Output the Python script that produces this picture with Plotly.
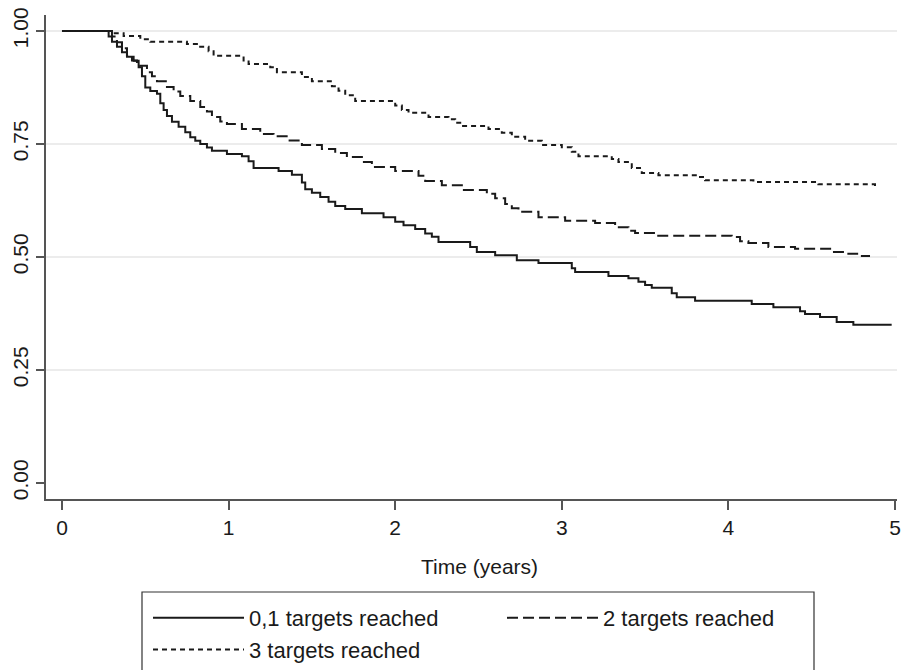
import plotly.graph_objects as go

# ---- data (Kaplan-Meier step estimates) ----
group_names = ["0,1 targets reached", "2 targets reached", "3 targets reached"]
x_title = "Time (years)"

t_01 = [0.00, 0.28, 0.30, 0.33, 0.36, 0.39, 0.43, 0.46, 0.48, 0.50, 0.53, 0.57, 0.59, 0.61,
        0.63, 0.66, 0.70, 0.74, 0.77, 0.80, 0.83, 0.87, 0.90, 0.99, 1.08, 1.12, 1.15, 1.30,
        1.38, 1.44, 1.46, 1.50, 1.55, 1.60, 1.64, 1.70, 1.80, 1.93, 2.00, 2.05, 2.12, 2.18,
        2.22, 2.26, 2.45, 2.49, 2.60, 2.73, 2.86, 3.06, 3.08, 3.28, 3.40, 3.46, 3.50, 3.54,
        3.66, 3.69, 3.80, 4.14, 4.27, 4.43, 4.46, 4.55, 4.65, 4.75, 4.98]
s_01 = [1.000, 0.988, 0.976, 0.965, 0.953, 0.943, 0.934, 0.920, 0.900, 0.875, 0.867, 0.861,
        0.840, 0.825, 0.812, 0.799, 0.788, 0.776, 0.765, 0.757, 0.750, 0.742, 0.735, 0.728,
        0.723, 0.712, 0.697, 0.690, 0.682, 0.665, 0.650, 0.642, 0.633, 0.622, 0.613, 0.606,
        0.597, 0.588, 0.578, 0.570, 0.562, 0.552, 0.545, 0.533, 0.522, 0.511, 0.504, 0.493,
        0.487, 0.475, 0.467, 0.458, 0.453, 0.445, 0.438, 0.432, 0.420, 0.411, 0.403, 0.396,
        0.389, 0.380, 0.374, 0.367, 0.356, 0.350, 0.350]

t_2 = [0.00, 0.30, 0.33, 0.36, 0.39, 0.42, 0.45, 0.51, 0.54, 0.57, 0.63, 0.67, 0.71, 0.77,
       0.83, 0.87, 0.90, 0.95, 0.99, 1.08, 1.19, 1.27, 1.36, 1.44, 1.56, 1.64, 1.71, 1.80,
       1.86, 2.00, 2.14, 2.18, 2.28, 2.40, 2.55, 2.60, 2.66, 2.70, 2.74, 2.86, 3.02, 3.20,
       3.32, 3.40, 3.44, 3.56, 4.02, 4.07, 4.12, 4.24, 4.40, 4.62, 4.72, 4.78, 4.85]
s_2 = [1.000, 0.988, 0.975, 0.962, 0.945, 0.935, 0.923, 0.909, 0.900, 0.889, 0.876, 0.866,
       0.856, 0.845, 0.832, 0.822, 0.810, 0.800, 0.794, 0.783, 0.772, 0.767, 0.758, 0.748,
       0.739, 0.730, 0.721, 0.710, 0.699, 0.690, 0.680, 0.668, 0.659, 0.648, 0.640, 0.630,
       0.617, 0.608, 0.600, 0.588, 0.580, 0.575, 0.566, 0.558, 0.553, 0.547, 0.544, 0.535,
       0.531, 0.522, 0.518, 0.511, 0.507, 0.502, 0.502]

t_3 = [0.00, 0.31, 0.37, 0.47, 0.53, 0.75, 0.82, 0.88, 0.91, 1.09, 1.12, 1.25, 1.29, 1.44,
       1.50, 1.62, 1.66, 1.70, 1.76, 2.00, 2.04, 2.08, 2.20, 2.32, 2.36, 2.40, 2.56, 2.64,
       2.70, 2.78, 2.88, 3.00, 3.06, 3.10, 3.30, 3.34, 3.42, 3.48, 3.58, 3.82, 3.86, 4.15,
       4.54, 4.88, 4.90]
s_3 = [1.000, 0.995, 0.989, 0.982, 0.976, 0.971, 0.965, 0.955, 0.945, 0.935, 0.927, 0.920,
       0.909, 0.898, 0.889, 0.878, 0.868, 0.858, 0.845, 0.835, 0.825, 0.819, 0.810, 0.805,
       0.797, 0.790, 0.783, 0.775, 0.766, 0.757, 0.748, 0.743, 0.733, 0.723, 0.717, 0.710,
       0.697, 0.686, 0.681, 0.677, 0.670, 0.666, 0.661, 0.657, 0.657]

x_ticks = [0, 1, 2, 3, 4, 5]
y_ticks = [0.0, 0.25, 0.5, 0.75, 1.0]
y_ticktext = ["0.00", "0.25", "0.50", "0.75", "1.00"]
grid_values = [0.25, 0.5, 0.75, 1.0]

# ---- figure ----
W, H = 901, 670
ML, MR, MT, MB = 46, 4, 15, 171
PW, PH = W - ML - MR, H - MT - MB

def px_x(p):
    return (p - ML) / PW

def px_y(p):
    return (H - MB - p) / PH

FONT = "Liberation Sans, Arial, Helvetica, sans-serif"
INK = "#1a1a1a"

fig = go.Figure()
series = [(t_01, s_01, "solid"), (t_2, s_2, "11px,5px"), (t_3, s_3, "5px,4px")]
for name, (t, s, dash) in zip(group_names, series):
    fig.add_trace(go.Scatter(
        x=t, y=s, name=name, mode="lines",
        line=dict(color=INK, width=2, dash=dash, shape="hv"),
    ))

shapes = []
for g in grid_values:
    shapes.append(dict(type="line", xref="paper", x0=0, x1=1, yref="y", y0=g, y1=g,
                       line=dict(color="#e6e6e6", width=1.5), layer="below"))
# legend frame
shapes.append(dict(type="rect", xref="paper", yref="paper",
                   x0=px_x(142), x1=px_x(814), y0=px_y(592), y1=px_y(674),
                   line=dict(color="#333333", width=1.2), fillcolor="rgba(0,0,0,0)"))

fig.update_layout(
    width=W, height=H,
    margin=dict(l=ML, r=MR, t=MT, b=MB, pad=0, autoexpand=False),
    paper_bgcolor="white", plot_bgcolor="white",
    font=dict(family=FONT, size=21, color=INK),
    shapes=shapes,
    annotations=[dict(text=x_title, xref="paper", yref="paper", x=px_x(479), y=px_y(566),
                      xanchor="center", yanchor="middle", showarrow=False,
                      font=dict(size=21, family=FONT, color=INK))],
    showlegend=True,
    legend=dict(orientation="h", x=px_x(148), y=px_y(597), xanchor="left", yanchor="top",
                itemwidth=91, entrywidth=248, font=dict(size=22, family=FONT, color=INK),
                bgcolor="rgba(0,0,0,0)", borderwidth=0, traceorder="normal"),
    xaxis=dict(range=[-0.096, 5.012], tickvals=x_ticks, ticktext=[str(v) for v in x_ticks],
               showgrid=False, zeroline=False, showline=True, linecolor="#555555", linewidth=1.5,
               ticks="outside", ticklen=9, tickwidth=1.5, tickcolor="#555555",
               tickfont=dict(size=21)),
    yaxis=dict(range=[-0.0354, 1.0354], tickvals=y_ticks, ticktext=y_ticktext,
               tickangle=-90, showgrid=False, zeroline=False, showline=True,
               linecolor="#555555", linewidth=1.5, ticks="outside", ticklen=8,
               tickwidth=1.5, tickcolor="#555555", tickfont=dict(size=21)),
)

fig.write_html("out.html")
